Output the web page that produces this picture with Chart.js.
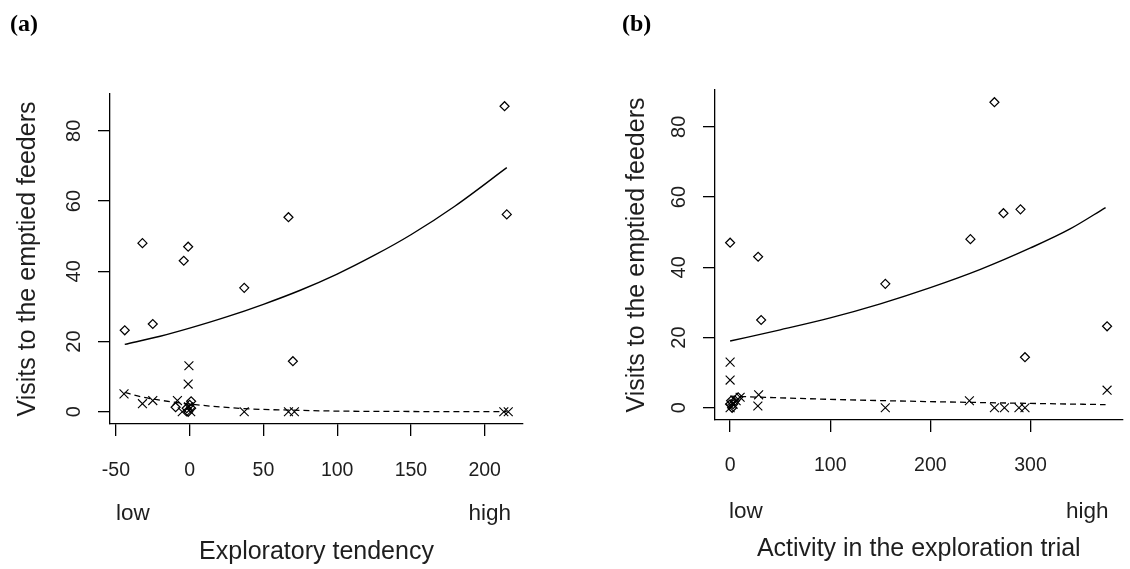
<!DOCTYPE html>
<html><head><meta charset="utf-8">
<script src="https://cdn.jsdelivr.net/npm/chart.js@4/dist/chart.umd.min.js"></script>
<style>
html,body{margin:0;padding:0;background:#fff;width:1130px;height:569px;overflow:hidden;}
canvas{position:absolute;top:0;}
#ca{left:0;} #cb{left:565px;}
</style></head><body>
<canvas id="ca" width="565" height="569"></canvas>
<canvas id="cb" width="565" height="569"></canvas>
<script>
// ---- shared ----
const yTicks = [0, 20, 40, 60, 80];
const yTitle = 'Visits to the emptied feeders';
const endLabels = ['low', 'high'];

// ---- panel (a): exploratory tendency ----
const aPanel = '(a)';
const aXTitle = 'Exploratory tendency';
const aXTicks = [-50, 0, 50, 100, 150, 200];
const aDiamondX = [-44, -32, -25, -4, -1, 37, 67, 70, 213.5, 215, -9.5, -2, 0, 1, -1, 1];
const aDiamondY = [23.2, 48, 25, 43, 47, 35.3, 55.4, 14.4, 87, 56.2, 1.3, 1, 2, 1, 0, 3];
const aCrossX = [-44.5, -32, -25, -8.3, -0.5, -1, -5, -0.7, 0.7, 37, 67, 71, 213, 216];
const aCrossY = [5.1, 2.3, 3.2, 3.2, 13.1, 7.9, 0, 1.4, 0, 0, 0, 0, 0, 0];
const aFitX = [-44, -20, 0, 25, 50, 75, 100, 125, 150, 180, 215];
const aFitY = [19.2, 21.5, 23.8, 27, 30.6, 34.6, 39.2, 44.5, 50.4, 58.6, 69.5];
const aFit0X = [-44, -33, -20, 0, 37, 70, 100, 150, 215];
const aFit0Y = [5.5, 4.3, 3.3, 2.2, 0.9, 0.45, 0.2, 0.08, 0.02];

// ---- panel (b): activity in the exploration trial ----
const bPanel = '(b)';
const bXTitle = 'Activity in the exploration trial';
const bXTicks = [0, 100, 200, 300];
const bDiamondX = [0, 28, 31, 155, 240, 264, 273, 290, 294.5, 376.5, 0, 1, 3, 5, 2, 8];
const bDiamondY = [47, 43, 25, 35.3, 48, 87, 55.4, 56.5, 14.4, 23.2, 1, 2, 1, 2, 0, 3];
const bCrossX = [0, 0, 28.5, 27.7, 155, 239, 264, 274, 288.5, 294.5, 376.5, 0, 3, 6, 10];
const bCrossY = [13, 7.9, 3.7, 0.5, 0, 2, 0, 0, 0, 0, 5, 0, 1, 2, 3];
const bFitX = [0, 50, 100, 150, 200, 250, 300, 340, 375];
const bFitY = [19, 22.2, 25.6, 29.6, 34.2, 39.4, 45.5, 51, 57];
const bFit0X = [0, 100, 200, 300, 375];
const bFit0Y = [3.3, 2.4, 1.75, 1.25, 0.9];

const FONT = '"Liberation Sans", Arial, sans-serif';
const TXT = '#1e1e1e';

const lowHigh = {
  id: 'lowHigh',
  afterDraw(chart, args, o) {
    const ctx = chart.ctx, a = chart.chartArea;
    ctx.save();
    ctx.font = '22.5px ' + FONT;
    ctx.fillStyle = TXT;
    ctx.textBaseline = 'alphabetic';
    ctx.textAlign = 'left';
    ctx.fillText(endLabels[0], a.left + o.lowDx, o.y);
    ctx.textAlign = 'right';
    ctx.fillText(endLabels[1], a.right - o.highDx, o.y);
    ctx.restore();
  }
};

function pts(xs, ys) { return xs.map((x, i) => ({x: x, y: ys[i]})); }

function makePanel(id, c) {
  const axisGrid = {drawOnChartArea: false, drawTicks: true, tickLength: 12, color: '#000', lineWidth: 1.3};
  const axisBorder = {display: true, color: '#000', width: 1.3};
  return new Chart(document.getElementById(id), {
    type: 'scatter',
    data: {datasets: [
      {data: pts(c.dx, c.dy), pointStyle: 'rectRot', pointRadius: 4.5, borderColor: '#000', backgroundColor: 'rgba(0,0,0,0)', borderWidth: 1.2, order: 2},
      {data: pts(c.cx, c.cy), pointStyle: 'crossRot', pointRadius: 6.3, borderColor: '#000', backgroundColor: '#000', borderWidth: 1.1, order: 2},
      {type: 'line', data: pts(c.fx, c.fy), showLine: true, pointRadius: 0, borderColor: '#000', borderWidth: 1.4, cubicInterpolationMode: 'monotone', fill: false, order: 1},
      {type: 'line', data: pts(c.gx, c.gy), showLine: true, pointRadius: 0, borderColor: '#000', borderWidth: 1.3, borderDash: [6, 4], cubicInterpolationMode: 'monotone', fill: false, order: 1}
    ]},
    options: {
      responsive: false,
      animation: false,
      events: [],
      layout: {padding: c.pad},
      plugins: {
        legend: {display: false},
        tooltip: {enabled: false},
        title: {display: true, text: c.panel, align: 'start', color: '#000',
          font: {family: '"Liberation Serif", "Times New Roman", serif', size: 24, weight: 'bold'},
          padding: c.titlePad},
        lowHigh: c.lh
      },
      scales: {
        x: {
          type: 'linear', min: c.xmin, max: c.xmax,
          afterBuildTicks: s => { s.ticks = c.xticks.map(v => ({value: v})); },
          afterFit: s => { s.height = c.xh; },
          grid: axisGrid, border: axisBorder,
          ticks: {color: TXT, font: {family: FONT, size: 19.5}, padding: c.xtp, maxRotation: 0, autoSkip: false, callback: v => String(v)},
          title: {display: true, text: c.xtitle, color: TXT, font: {family: FONT, size: 25}, padding: {top: 0, bottom: c.xtitlePb}}
        },
        y: {
          type: 'linear', min: -3.48, max: 90.48,
          afterBuildTicks: s => { s.ticks = yTicks.map(v => ({value: v})); },
          afterFit: s => { s.width = c.yw; },
          grid: axisGrid, border: axisBorder,
          ticks: {color: TXT, font: {family: FONT, size: 20}, padding: 12, minRotation: 90, maxRotation: 90, crossAlign: 'center', autoSkip: false, callback: v => String(v)},
          title: {display: true, text: yTitle, color: TXT, font: {family: FONT, size: 25}, padding: {top: c.ytitlePt, bottom: 0}}
        }
      }
    },
    plugins: [lowHigh]
  });
}

makePanel('ca', {
  panel: aPanel, xtitle: aXTitle, xticks: aXTicks,
  dx: aDiamondX, dy: aDiamondY, cx: aCrossX, cy: aCrossY,
  fx: aFitX, fy: aFitY, gx: aFit0X, gy: aFit0Y,
  xmin: -54, xmax: 226,
  pad: {left: 10, right: 42, top: 0, bottom: 0},
  titlePad: {top: 10, bottom: 55.2},
  yw: 100, xh: 145, ytitlePt: 3, xtitlePb: 2, xtp: 23,
  lh: {lowDx: 6, highDx: 12, y: 520}
});
makePanel('cb', {
  panel: bPanel, xtitle: bXTitle, xticks: bXTicks,
  dx: bDiamondX, dy: bDiamondY, cx: bCrossX, cy: bCrossY,
  fx: bFitX, fy: bFitY, gx: bFit0X, gy: bFit0Y,
  xmin: -15.1, xmax: 392,
  pad: {left: 57, right: 3, top: 0, bottom: 0},
  titlePad: {top: 10.6, bottom: 50.6},
  yw: 93, xh: 149, ytitlePt: 0, xtitlePb: 5, xtp: 22,
  lh: {lowDx: 14, highDx: 14, y: 518}
});
</script>
</body></html>
